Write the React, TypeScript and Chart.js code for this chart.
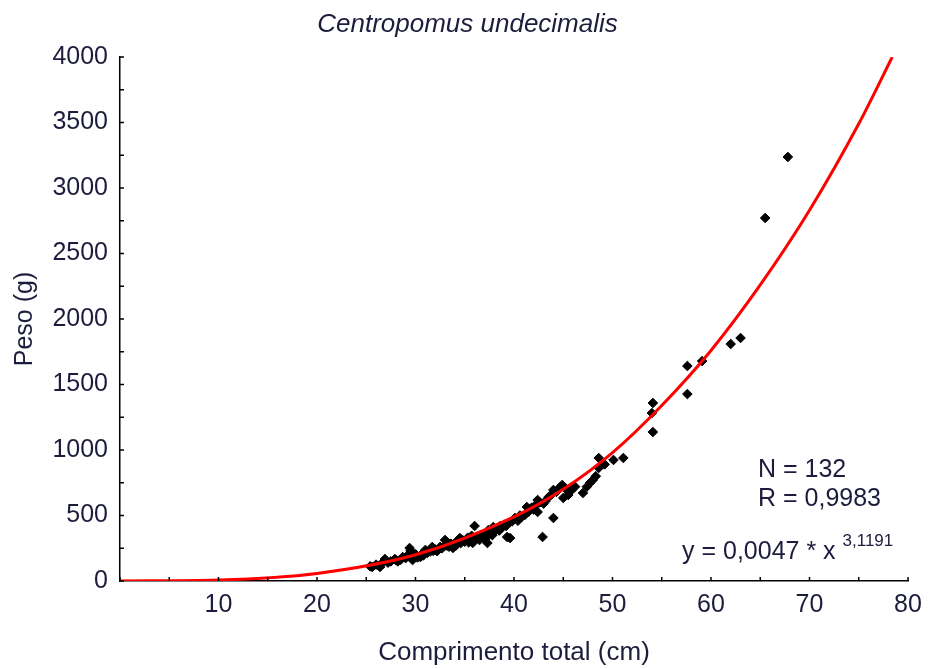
import React, { useEffect, useRef } from 'react';
import { Chart, registerables } from 'chart.js';

Chart.register(...registerables);

// ---- data ----
const lengthCm = [
  25.4, 25.6, 26.0, 26.4, 26.6, 26.9, 27.2, 27.5, 27.9, 28.2, 28.5, 28.7, 29.0, 29.2, 29.4, 29.5, 29.6, 29.7, 29.9, 30.0,
  30.2, 30.5, 30.7, 31.0, 31.2, 31.5, 31.7, 32.0, 32.2, 32.5, 32.7, 33.0, 33.2, 33.4, 33.6, 33.8, 34.0, 34.1, 34.3, 34.5,
  34.6, 34.8, 35.0, 35.2, 35.3, 35.5, 35.7, 35.8, 36.0, 36.1,
  36.3, 36.5, 36.6, 36.8, 37.0, 37.1, 37.3, 37.4, 37.5, 37.7, 37.9, 38.0, 38.2, 38.4, 38.6, 38.8, 39.0, 39.3, 39.5, 39.6,
  39.8, 40.0, 40.1, 40.4,
  40.6, 40.8, 41.1, 41.3, 41.5, 41.8, 42.0, 42.2, 42.4, 42.4, 42.6, 42.9, 43.2, 43.5, 43.8, 44.0, 44.0, 44.3, 44.5, 44.7,
  44.9, 45.0, 45.3, 45.5, 45.8, 46.2,
  47.0, 47.4, 47.7, 48.0, 48.3, 48.6, 48.6, 49.2, 50.1, 51.1, 54.1, 54.0, 54.1,
  57.6, 57.6, 59.1, 62.0, 63.0, 65.5, 67.8,
  28.0, 30.8, 31.8, 32.9, 33.9, 35.4, 36.9, 37.8, 38.5, 39.2, 41.6, 43.0,
];
const weightG = [
  112, 107, 125, 107, 137, 168, 140, 150, 168, 150, 162, 183, 175, 195, 252, 230, 214, 160, 190, 205,
  180, 183, 210, 237, 215, 225, 260, 240, 228, 260, 250, 313, 270, 262, 285, 252, 290, 270, 300, 328,
  290, 310, 300, 313, 330, 305, 345, 290, 420, 320,
  335, 313, 350, 340, 355, 320, 290, 389, 360, 370, 412, 380, 395, 405, 420, 410, 430, 336, 445, 328,
  455, 470, 481, 460,
  500, 490, 504, 565, 530, 560, 545, 580, 618, 527, 600, 336, 610, 640, 660, 481, 695, 680, 700, 718,
  733, 634, 700, 656, 690, 720,
  672, 720, 748, 771, 800, 939, 863, 890, 924, 939, 1359, 1282, 1137,
  1641, 1427, 1679, 1809, 1855, 2771, 3237,
  160, 195, 230, 265, 275, 295, 330, 350, 385, 420, 545, 590,
];

// fitted curve y = 0,0047 * x^3,1191, as traced on the picture
const fitLength = [0, 10, 20, 30, 40, 45, 50, 55, 60, 65, 70, 75, 78.4];
const fitWeight = [0, 8, 58, 200, 490, 700, 980, 1340, 1760, 2260, 2830, 3490, 4000];

const xMajorTicks = [10, 20, 30, 40, 50, 60, 70, 80];
const yMajorTicks = [0, 500, 1000, 1500, 2000, 2500, 3000, 3500, 4000];

const chartTitle = 'Centropomus undecimalis';
const xAxisTitle = 'Comprimento total (cm)';
const yAxisTitle = 'Peso (g)';
const statLines = ['N = 132', 'R = 0,9983'];
const equationText = 'y = 0,0047 * x';
const equationExponent = '3,1191';

const FONT = '"Liberation Sans", Arial, sans-serif';
const TEXT_COLOR = '#1c1c3c';

const inwardTicks = {
  id: 'inwardTicks',
  afterDraw(chart: any) {
    const { ctx, scales } = chart;
    const xs = scales.x;
    const ys = scales.y;
    ctx.save();
    ctx.strokeStyle = '#000';
    ctx.lineWidth = 1.5;
    ctx.beginPath();
    xs.ticks.forEach((t: any) => {
      const px = xs.getPixelForValue(t.value);
      ctx.moveTo(px, xs.top);
      ctx.lineTo(px, xs.top - 4);
    });
    ys.ticks.forEach((t: any) => {
      const py = ys.getPixelForValue(t.value);
      ctx.moveTo(ys.right, py);
      ctx.lineTo(ys.right + 4, py);
    });
    ctx.stroke();
    ctx.restore();
  },
};

const annotations = {
  id: 'annotations',
  afterDraw(chart: any) {
    const { ctx, chartArea, width } = chart;
    ctx.save();
    ctx.fillStyle = TEXT_COLOR;
    // title
    ctx.textAlign = 'center';
    ctx.textBaseline = 'middle';
    ctx.font = `italic 26px ${FONT}`;
    ctx.fillText(chartTitle, width / 2 + 2, 25);
    // statistics
    ctx.textAlign = 'left';
    ctx.font = `25px ${FONT}`;
    const left1 = chartArea.right - 150;
    ctx.fillText(statLines[0], left1, chartArea.bottom - 111);
    ctx.fillText(statLines[1], left1, chartArea.bottom - 82);
    const left2 = chartArea.right - 226;
    const eqY = chartArea.bottom - 29;
    ctx.fillText(equationText, left2, eqY);
    const w = ctx.measureText(equationText + ' ').width;
    ctx.font = `17px ${FONT}`;
    ctx.fillText(equationExponent, left2 + w, eqY - 11);
    ctx.restore();
  },
};

export default function App() {
  const canvasRef = useRef<HTMLCanvasElement | null>(null);

  useEffect(() => {
    const canvas = canvasRef.current;
    if (!canvas) return;
    const scatterData = lengthCm.map((x, i) => ({ x, y: weightG[i] }));
    const fitData = fitLength.map((x, i) => ({ x, y: fitWeight[i] }));

    const chart = new Chart(canvas, {
      type: 'scatter',
      data: {
        datasets: [
          {
            label: 'ajuste',
            data: fitData,
            showLine: true,
            borderColor: '#ff0000',
            backgroundColor: '#ff0000',
            borderWidth: 3,
            pointRadius: 0,
            cubicInterpolationMode: 'monotone',
          },
          {
            label: 'observado',
            data: scatterData,
            pointStyle: 'rectRot',
            pointRadius: 4.8,
            pointBorderWidth: 1,
            borderColor: '#000',
            backgroundColor: '#000',
          },
        ],
      } as any,
      options: {
        responsive: false,
        animation: false,
        devicePixelRatio: 1,
        layout: { padding: { left: 0, right: 23, top: 57, bottom: 0 } },
        plugins: {
          legend: { display: false },
          tooltip: { enabled: false },
          title: { display: false },
        },
        scales: {
          x: {
            type: 'linear',
            min: 0,
            max: 80,
            ticks: {
              stepSize: 5,
              autoSkip: false,
              maxRotation: 0,
              padding: 9,
              color: TEXT_COLOR,
              font: { family: FONT, size: 25 },
              callback: (v: any) => (xMajorTicks.includes(Number(v)) ? String(v) : ''),
            },
            grid: { drawOnChartArea: false, drawTicks: false },
            border: { color: '#000', width: 1.5 },
            title: {
              display: true,
              text: xAxisTitle,
              color: TEXT_COLOR,
              font: { family: FONT, size: 26, lineHeight: 1.2 },
              padding: { top: 0, bottom: 1 },
            },
            afterFit: (s: any) => {
              s.height = 88;
            },
          },
          y: {
            type: 'linear',
            min: 0,
            max: 4000,
            ticks: {
              stepSize: 250,
              autoSkip: false,
              padding: 12,
              color: TEXT_COLOR,
              font: { family: FONT, size: 25 },
              callback: (v: any) => (yMajorTicks.includes(Number(v)) ? String(v) : ''),
            },
            grid: { drawOnChartArea: false, drawTicks: false },
            border: { color: '#000', width: 1.5 },
            title: {
              display: true,
              text: yAxisTitle,
              color: TEXT_COLOR,
              font: { family: FONT, size: 25, lineHeight: 1.2 },
              padding: { top: 10, bottom: 0 },
            },
            afterFit: (s: any) => {
              s.width = 120;
            },
          },
        },
      } as any,
      plugins: [inwardTicks, annotations],
    });

    return () => chart.destroy();
  }, []);

  return (
    <div style={{ position: 'absolute', left: 0, top: 0, width: 931, height: 669, background: '#fff' }}>
      <canvas ref={canvasRef} width={931} height={669} style={{ display: 'block' }} />
    </div>
  );
}
